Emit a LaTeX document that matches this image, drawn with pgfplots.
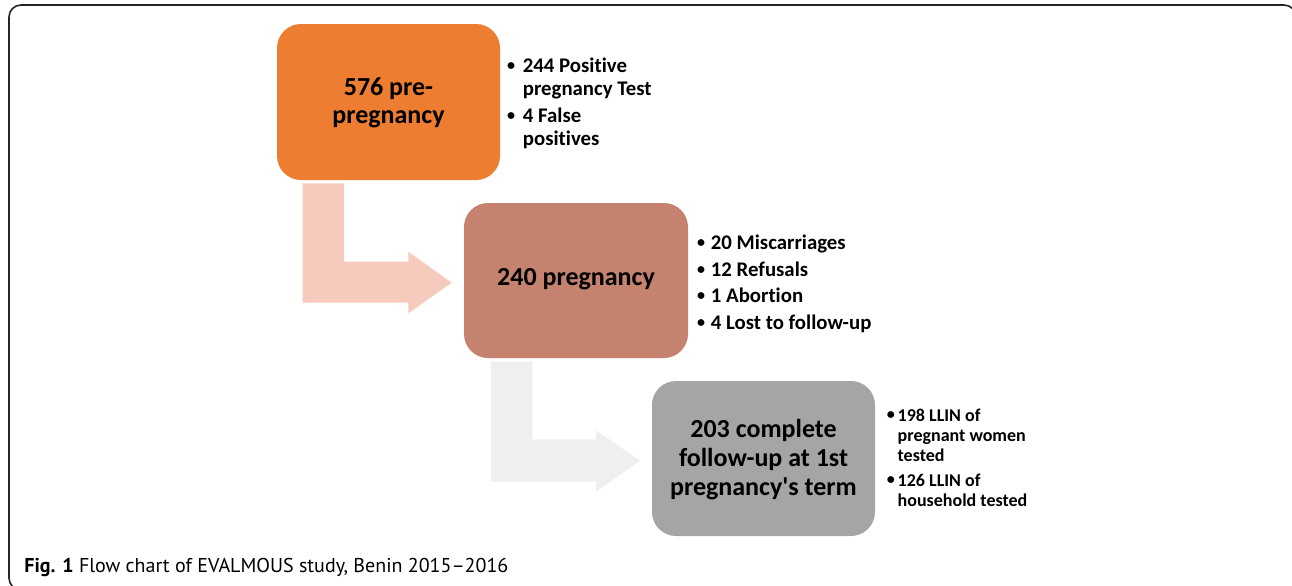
\documentclass[border=0pt]{standalone}
\usepackage{fontspec}
\newfontfamily\calfont{Carlito}[Ligatures=NoCommon]
\newfontfamily\capfont{PT Sans}
\usepackage{pgfplots}
\pgfplotsset{compat=1.18}
\definecolor{cOrange}{HTML}{ED7D31}
\definecolor{cBrown}{HTML}{C4826F}
\definecolor{cGray}{HTML}{A5A5A5}
\definecolor{cArrowA}{HTML}{F6CBBE}
\definecolor{cArrowB}{HTML}{EFEFEF}
\newcommand{\bul}{{\fontsize{8pt}{8pt}\selectfont •}}
\begin{document}
\begin{tikzpicture}
\begin{axis}[
  width=646pt, height=292.5pt, scale only axis,
  xmin=0, xmax=1292, ymin=0, ymax=585, y dir=reverse,
  hide axis, clip=true,
  every node/.append style={inner sep=0pt, outer sep=0pt},
]
% frame
\draw[line width=0.8pt, black!85, rounded corners=6pt] (axis cs:9,5) rectangle (axis cs:1296,590);
% arrows
\addplot[fill=cArrowA, draw=none] coordinates {(302.7,183.3) (344,183.3) (344,261.7) (408.3,261.7) (408.3,251.7) (451.7,282.7) (408.3,313.3) (408.3,302.7) (302.7,302.7)} --cycle;
\addplot[fill=cArrowB, draw=none] coordinates {(491,361.7) (532.3,361.7) (532.3,439.3) (596,439.3) (596,430) (640,460.7) (596,491.7) (596,481.7) (491,481.7)} --cycle;
% boxes
\fill[cOrange, rounded corners=12pt] (axis cs:277,24) rectangle (axis cs:500,180);
\fill[cBrown, rounded corners=12pt] (axis cs:464,203) rectangle (axis cs:688,358);
\fill[cGray, rounded corners=12pt] (axis cs:652,381) rectangle (axis cs:875,536);
% box texts
\begin{scope}[every node/.style={anchor=base, inner sep=0pt, font=\calfont\fontsize{13pt}{14pt}\selectfont\bfseries}]
\node at (axis cs:388.5,95.5) {576 pre-};
\node at (axis cs:388.5,123.5) {pregnancy};
\node at (axis cs:576,285) {240 pregnancy};
\node at (axis cs:763.5,437) {203 complete};
\node at (axis cs:763.5,466) {follow-up at 1st};
\node at (axis cs:763.5,495) {pregnancy's term};
\end{scope}
% orange bullets
\begin{scope}[every node/.style={inner sep=0pt, font=\calfont\fontsize{10.4pt}{12pt}\selectfont\bfseries}]
\node[anchor=base] at (axis cs:511,70) {\bul};
\node[anchor=base west] at (axis cs:522.5,72) {244 Positive};
\node[anchor=base west] at (axis cs:522.5,95) {pregnancy Test};
\node[anchor=base] at (axis cs:511,120) {\bul};
\node[anchor=base west] at (axis cs:522.5,122) {4 False};
\node[anchor=base west] at (axis cs:522.5,145) {positives};
% brown bullets
\node[anchor=base] at (axis cs:701,247) {\bul};
\node[anchor=base west] at (axis cs:710.5,249) {20 Miscarriages};
\node[anchor=base] at (axis cs:701,274) {\bul};
\node[anchor=base west] at (axis cs:710.5,276) {12 Refusals};
\node[anchor=base] at (axis cs:701,300) {\bul};
\node[anchor=base west] at (axis cs:710.5,302) {1 Abortion};
\node[anchor=base] at (axis cs:701,327) {\bul};
\node[anchor=base west] at (axis cs:710.5,329) {4 Lost to follow-up};
\end{scope}
% gray bullets
\begin{scope}[every node/.style={inner sep=0pt, font=\calfont\fontsize{9pt}{10pt}\selectfont\bfseries}]
\node[anchor=base] at (axis cs:890.8,419.5) {\bul};
\node[anchor=base west] at (axis cs:897.3,421.5) {198 LLIN of};
\node[anchor=base west] at (axis cs:897.3,441.5) {pregnant women};
\node[anchor=base west] at (axis cs:897.3,461.5) {tested};
\node[anchor=base] at (axis cs:890.8,484.5) {\bul};
\node[anchor=base west] at (axis cs:897.3,486.5) {126 LLIN of};
\node[anchor=base west] at (axis cs:897.3,506.5) {household tested};
\end{scope}
% caption
\node[anchor=base west, inner sep=0pt, font=\capfont\fontsize{10pt}{12pt}\selectfont] at (axis cs:24,572) {\textbf{Fig. 1} Flow chart of EVALMOUS study, Benin 2015–2016};
\end{axis}
\pgfresetboundingbox
\path (current axis.south west) rectangle (current axis.north east);
\end{tikzpicture}
\end{document}
